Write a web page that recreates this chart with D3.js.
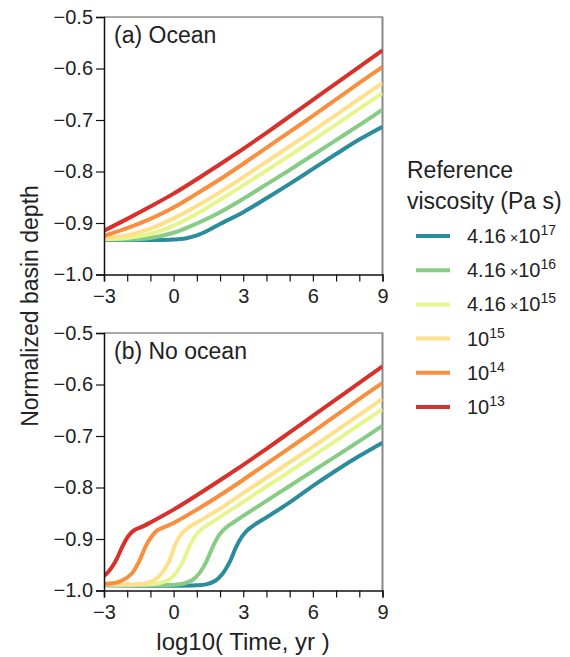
<!DOCTYPE html>
<html>
<head>
<meta charset="utf-8">
<script src="https://cdn.jsdelivr.net/npm/d3@7"></script>
<style>
  body { margin: 0; background: #fff; }
  text { font-family: "Liberation Sans", Arial, sans-serif; fill: #222; }
</style>
</head>
<body>
<div id="chart"></div>
<script>

var width = 570,
    height = 657;

// series, from high viscosity to low (legend order)
var seriesNames = ["4.16e17", "4.16e16", "4.16e15", "1e15", "1e14", "1e13"];
var seriesColors = ["#2a8c9d", "#86cc84", "#e6f58c", "#fee08b", "#f98e3c", "#d8302a"];
var legendMant = ["4.16", "4.16", "4.16", "", "", ""];
var legendExp = ["17", "16", "15", "15", "14", "13"];

var xTicks = [-3, 0, 3, 6, 9];
var yTicks = [-1.0, -0.9, -0.8, -0.7, -0.6, -0.5];

// (a) Ocean : [log10 time, normalized depth]
var oceanTeal = [[-3,-0.933],[-2,-0.933],[-1,-0.933],[0,-0.932],[0.5,-0.930],[1,-0.924],[1.5,-0.914],[2,-0.902],[3,-0.879],[4,-0.852],[5,-0.824],[6,-0.795],[7,-0.766],[8,-0.738],[9,-0.713]];
var oceanGreen = [[-3,-0.932],[-2,-0.932],[-1,-0.929],[0,-0.919],[1,-0.901],[2,-0.879],[3,-0.853],[4,-0.825],[5,-0.797],[6,-0.768],[7,-0.739],[8,-0.710],[9,-0.680]];
var oceanLight = [[-3,-0.931],[-2,-0.929],[-1,-0.921],[0,-0.905],[1,-0.882],[2,-0.855],[3,-0.827],[4,-0.798],[5,-0.769],[6,-0.739],[7,-0.709],[8,-0.678],[9,-0.648]];
var oceanYellow = [[-3,-0.930],[-2,-0.924],[-1,-0.911],[0,-0.891],[1,-0.867],[2,-0.840],[3,-0.811],[4,-0.781],[5,-0.751],[6,-0.721],[7,-0.690],[8,-0.659],[9,-0.628]];
var oceanOrange = [[-3,-0.925],[-2,-0.910],[-1,-0.892],[0,-0.870],[1,-0.843],[2,-0.815],[3,-0.785],[4,-0.754],[5,-0.723],[6,-0.692],[7,-0.660],[8,-0.628],[9,-0.597]];
var oceanRed = [[-3,-0.915],[-2,-0.892],[-1,-0.868],[0,-0.843],[1,-0.815],[2,-0.786],[3,-0.756],[4,-0.725],[5,-0.693],[6,-0.661],[7,-0.629],[8,-0.597],[9,-0.565]];

// (b) No ocean
var noTeal = [[-3,-0.990],[1.0,-0.990],[1.4,-0.988],[1.8,-0.981],[2.1,-0.968],[2.4,-0.946],[2.7,-0.915],[2.95,-0.895],[3.2,-0.882],[3.6,-0.869],[4,-0.858],[5,-0.829],[6,-0.797],[7,-0.767],[8,-0.739],[9,-0.713]];
var noGreen = [[-3,-0.989],[0,-0.989],[0.4,-0.987],[0.8,-0.980],[1.1,-0.967],[1.4,-0.945],[1.7,-0.914],[1.95,-0.893],[2.2,-0.880],[2.6,-0.867],[3,-0.855],[4,-0.826],[5,-0.797],[6,-0.768],[7,-0.739],[8,-0.710],[9,-0.680]];
var noLight = [[-3,-0.988],[-1,-0.988],[-0.6,-0.986],[-0.2,-0.979],[0.1,-0.966],[0.4,-0.944],[0.7,-0.913],[0.95,-0.893],[1.2,-0.881],[1.6,-0.869],[2,-0.857],[3,-0.828],[4,-0.798],[5,-0.769],[6,-0.739],[7,-0.709],[8,-0.678],[9,-0.648]];
var noYellow = [[-3,-0.988],[-1.6,-0.988],[-1.2,-0.986],[-0.8,-0.979],[-0.5,-0.966],[-0.2,-0.944],[0.05,-0.913],[0.3,-0.892],[0.6,-0.879],[1,-0.868],[2,-0.841],[3,-0.811],[4,-0.781],[5,-0.751],[6,-0.721],[7,-0.690],[8,-0.659],[9,-0.628]];
var noOrange = [[-3,-0.987],[-2.6,-0.986],[-2.2,-0.980],[-1.8,-0.967],[-1.5,-0.945],[-1.2,-0.914],[-0.95,-0.895],[-0.7,-0.883],[-0.3,-0.875],[0,-0.869],[1,-0.843],[2,-0.815],[3,-0.785],[4,-0.754],[5,-0.723],[6,-0.692],[7,-0.660],[8,-0.628],[9,-0.597]];
var noRed = [[-3,-0.972],[-2.8,-0.963],[-2.5,-0.943],[-2.2,-0.914],[-1.95,-0.894],[-1.7,-0.883],[-1.3,-0.875],[-1,-0.868],[0,-0.843],[1,-0.815],[2,-0.786],[3,-0.756],[4,-0.725],[5,-0.693],[6,-0.661],[7,-0.629],[8,-0.597],[9,-0.565]];

var panels = [
  {label: "(a) Ocean", top: 17, series: [oceanTeal, oceanGreen, oceanLight, oceanYellow, oceanOrange, oceanRed]},
  {label: "(b) No ocean", top: 333, series: [noTeal, noGreen, noLight, noYellow, noOrange, noRed]}
];

var left = 104, right = 382.5, panelH = 257.5;

var svg = d3.select("#chart").append("svg")
    .attr("width", width)
    .attr("height", height);

var x = d3.scaleLinear().domain([-3, 9]).range([left, right]);

panels.forEach(function(p){
  var y = d3.scaleLinear().domain([-1.0, -0.5]).range([p.top + panelH, p.top]);
  var g = svg.append("g");

  // frame top / right in gray
  g.append("line")
    .attr("x1", left).attr("x2", right)
    .attr("y1", p.top).attr("y2", p.top)
    .attr("stroke", "#555").attr("stroke-width", 1.2);
  g.append("line")
    .attr("x1", right).attr("x2", right)
    .attr("y1", p.top - 0.5).attr("y2", p.top + panelH)
    .attr("stroke", "#888").attr("stroke-width", 2);

  var line = d3.line()
    .x(function(d){ return x(d[0]); })
    .y(function(d){ return y(d[1]); })
    .curve(d3.curveCatmullRom.alpha(0.5));

  var clipId = "clip" + p.top;
  svg.append("clipPath").attr("id", clipId)
    .append("rect").attr("x", left).attr("y", p.top).attr("width", right - left).attr("height", panelH);

  g.append("g").attr("clip-path", "url(#" + clipId + ")")
    .selectAll("path")
    .data(p.series)
    .enter().append("path")
    .attr("d", line)
    .attr("fill", "none")
    .attr("stroke", function(d, i){ return seriesColors[i]; })
    .attr("stroke-width", 4)
    .attr("stroke-linejoin", "round");

  // axes
  var xAxis = d3.axisBottom(x)
    .tickValues(d3.range(-3, 10, 1))
    .tickSize(7)
    .tickFormat(function(d){ return xTicks.indexOf(d) >= 0 ? (d < 0 ? "\u2212" + Math.abs(d) : d) : ""; });
  var ax = g.append("g")
    .attr("transform", "translate(0," + (p.top + panelH) + ")")
    .call(xAxis);
  ax.select(".domain").attr("stroke", "#111").attr("stroke-width", 1.5);
  ax.selectAll(".tick line").attr("stroke", "#111").attr("stroke-width", 1.2);
  ax.selectAll(".tick text").attr("font-size", 20).attr("dy", "0.9em").attr("fill", "#222")
    .style("font-family", "'Liberation Sans', Arial, sans-serif");

  var yAxis = d3.axisLeft(y)
    .tickValues(yTicks)
    .tickSize(8)
    .tickFormat(function(d){ return "\u2212" + Math.abs(d).toFixed(1); });
  var ay = g.append("g")
    .attr("transform", "translate(" + left + ",0)")
    .call(yAxis);
  ay.select(".domain").attr("stroke", "#111").attr("stroke-width", 1.5);
  ay.selectAll(".tick text").attr("font-size", 20).attr("x", -11).attr("fill", "#222")
    .style("font-family", "'Liberation Sans', Arial, sans-serif");
  ay.selectAll(".tick line").attr("stroke", "#111").attr("stroke-width", 1.2);

  g.append("text")
    .attr("x", left + 10)
    .attr("y", p.top + 26)
    .attr("font-size", 23)
    .text(p.label);
});

// axis titles
svg.append("text")
  .attr("transform", "translate(38,306) rotate(-90)")
  .attr("text-anchor", "middle")
  .attr("font-size", 23)
  .text("Normalized basin depth");

svg.append("text")
  .attr("x", 243)
  .attr("y", 650)
  .attr("text-anchor", "middle")
  .attr("font-size", 24)
  .text("log10( Time, yr )");

// legend
var legend = svg.append("g");
legend.append("text").attr("x", 407).attr("y", 178).attr("font-size", 23).text("Reference");
legend.append("text").attr("x", 407).attr("y", 209).attr("font-size", 23).text("viscosity (Pa s)");

var items = legend.selectAll(".item")
  .data(seriesNames)
  .enter().append("g")
  .attr("class", "item")
  .attr("transform", function(d, i){ return "translate(0," + (236 + i * 34.2) + ")"; });

items.append("line")
  .attr("x1", 416).attr("x2", 450)
  .attr("y1", 0).attr("y2", 0)
  .attr("stroke", function(d, i){ return seriesColors[i]; })
  .attr("stroke-width", 4);

items.each(function(d, i){
  var t = d3.select(this).append("text")
    .attr("x", 467)
    .attr("y", 7)
    .attr("font-size", 20);
  if (legendMant[i]) {
    t.append("tspan").text(legendMant[i]);
    t.append("tspan").attr("dx", 4).attr("font-size", 14).text("\u00d7");
  }
  t.append("tspan").text("10");
  t.append("tspan").attr("dy", -8).attr("font-size", 14).text(legendExp[i]);
});

</script>
</body>
</html>
